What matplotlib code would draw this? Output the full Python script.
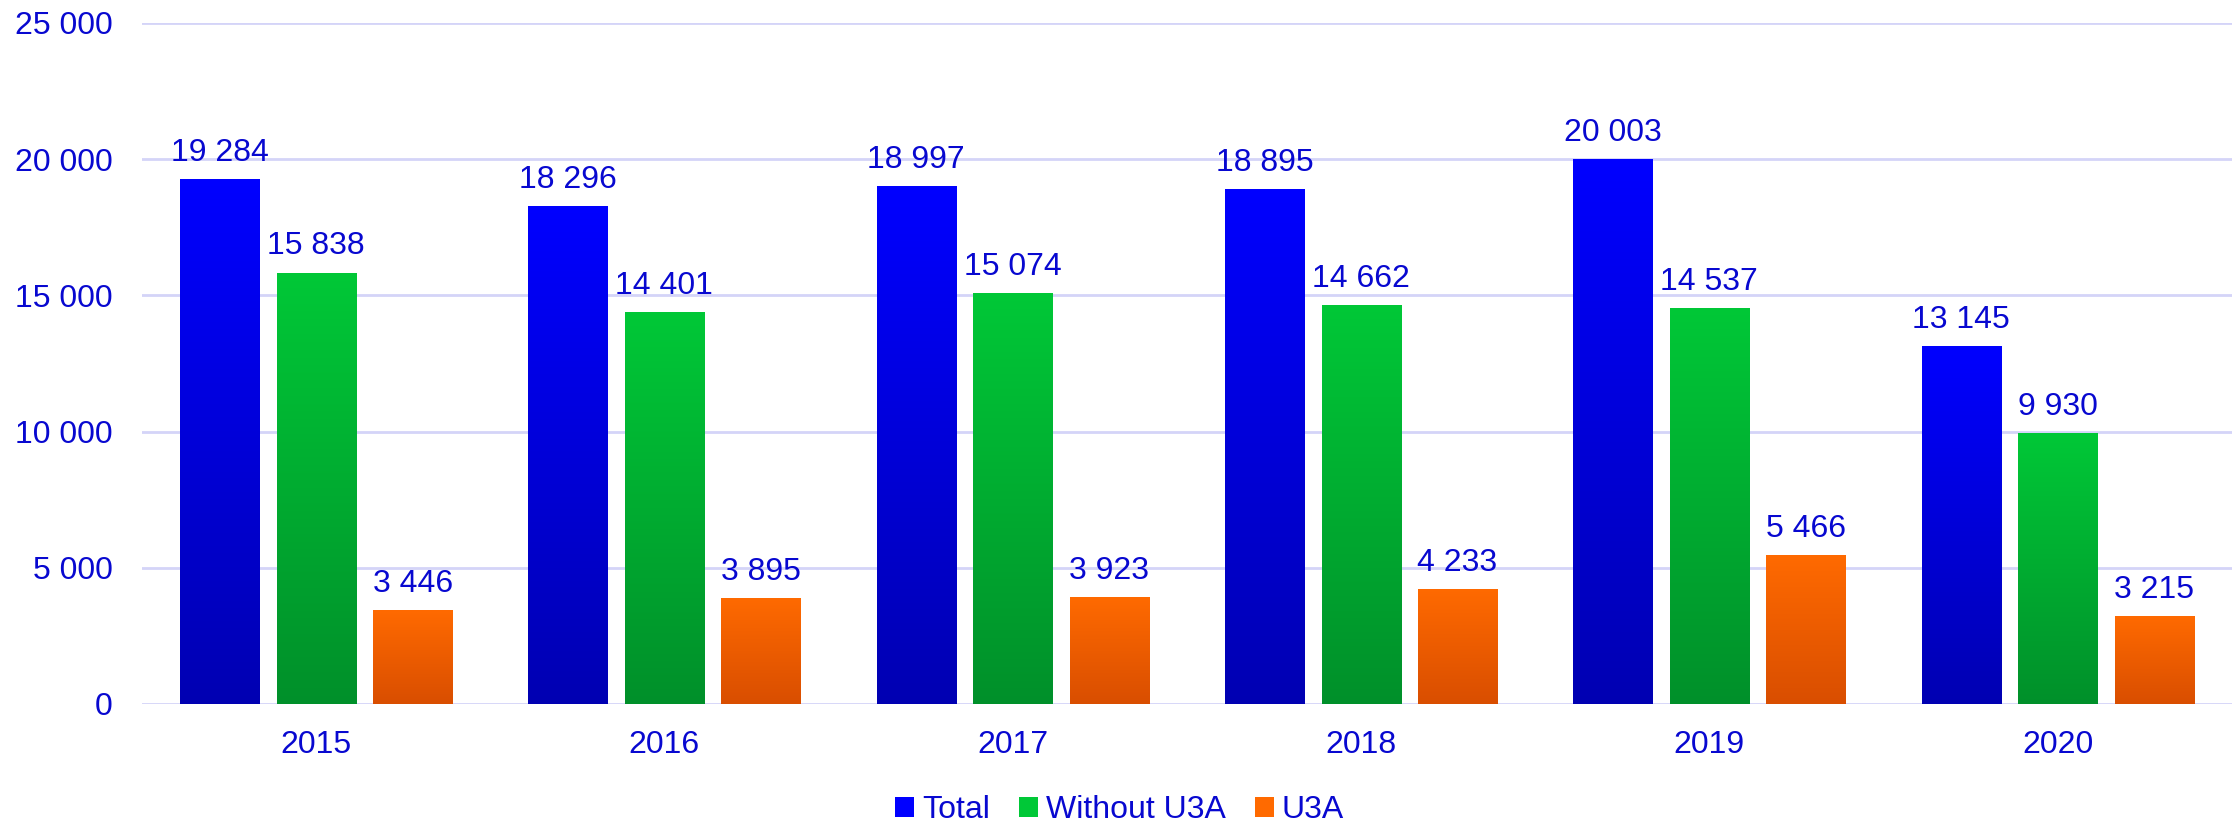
import matplotlib.pyplot as plt
import numpy as np
from matplotlib.colors import LinearSegmentedColormap

plt.rcParams['font.family'] = ['Liberation Sans', 'DejaVu Sans']

years = ['2015', '2016', '2017', '2018', '2019', '2020']
series_names = ['Total', 'Without U3A', 'U3A']
total = [19284, 18296, 18997, 18895, 20003, 13145]
without_u3a = [15838, 14401, 15074, 14662, 14537, 9930]
u3a = [3446, 3895, 3923, 4233, 5466, 3215]

# (top colour, bottom colour) for the gradient fill
grads = [('#0000FF', '#0000B2'), ('#00C837', '#00902A'), ('#FF6A00', '#D94E00')]
txt = '#0808D0'
fs = 23

fig = plt.figure(figsize=(22.39, 8.26), dpi=100)
ax = fig.add_axes([0.0634, 0.1477, 0.9334, 0.8245])

x = np.arange(len(years))
w = 0.227
step = 0.277
for k, vals in enumerate([total, without_u3a, u3a]):
    top, bot = grads[k]
    cmap = LinearSegmentedColormap.from_list('g%d' % k, [bot, top])
    pos = x + (k - 1) * step
    bars = ax.bar(pos, vals, w, color=top, label=series_names[k], zorder=2)
    for b, v in zip(bars, vals):
        grad = np.linspace(0, 1, 256).reshape(-1, 1)
        im = ax.imshow(grad, cmap=cmap, origin='lower', aspect='auto',
                       extent=[b.get_x(), b.get_x() + w, 0, v], zorder=3)
        im.set_clip_path(b)
        ax.annotate(f'{v:,}'.replace(',', ' '), (b.get_x() + w / 2, v),
                    xytext=(0, 13), textcoords='offset points',
                    ha='center', va='baseline', fontsize=fs, color=txt)

ax.set_xlim(-0.5, len(years) - 0.5)
ax.set_ylim(0, 25000)
ax.set_yticks(range(0, 25001, 5000))
ax.set_yticklabels([f'{t:,}'.replace(',', ' ') for t in range(0, 25001, 5000)])
ax.set_xticks(x)
ax.set_xticklabels(years)
ax.tick_params(axis='both', length=0, labelsize=fs, labelcolor=txt)
ax.tick_params(axis='y', pad=21)
ax.tick_params(axis='x', pad=19)
ax.grid(axis='y', color='#D4D4F8', linewidth=2, zorder=0)
ax.set_axisbelow(True)
for s in ax.spines.values():
    s.set_visible(False)

fig.legend(loc='center', bbox_to_anchor=(0.5, 1 - 810 / 826), ncol=3,
           frameon=False, fontsize=fs, labelcolor=txt, handlelength=0.6,
           handleheight=0.6, handletextpad=0.25, columnspacing=0.9)

fig.savefig('out.png', dpi=100)
